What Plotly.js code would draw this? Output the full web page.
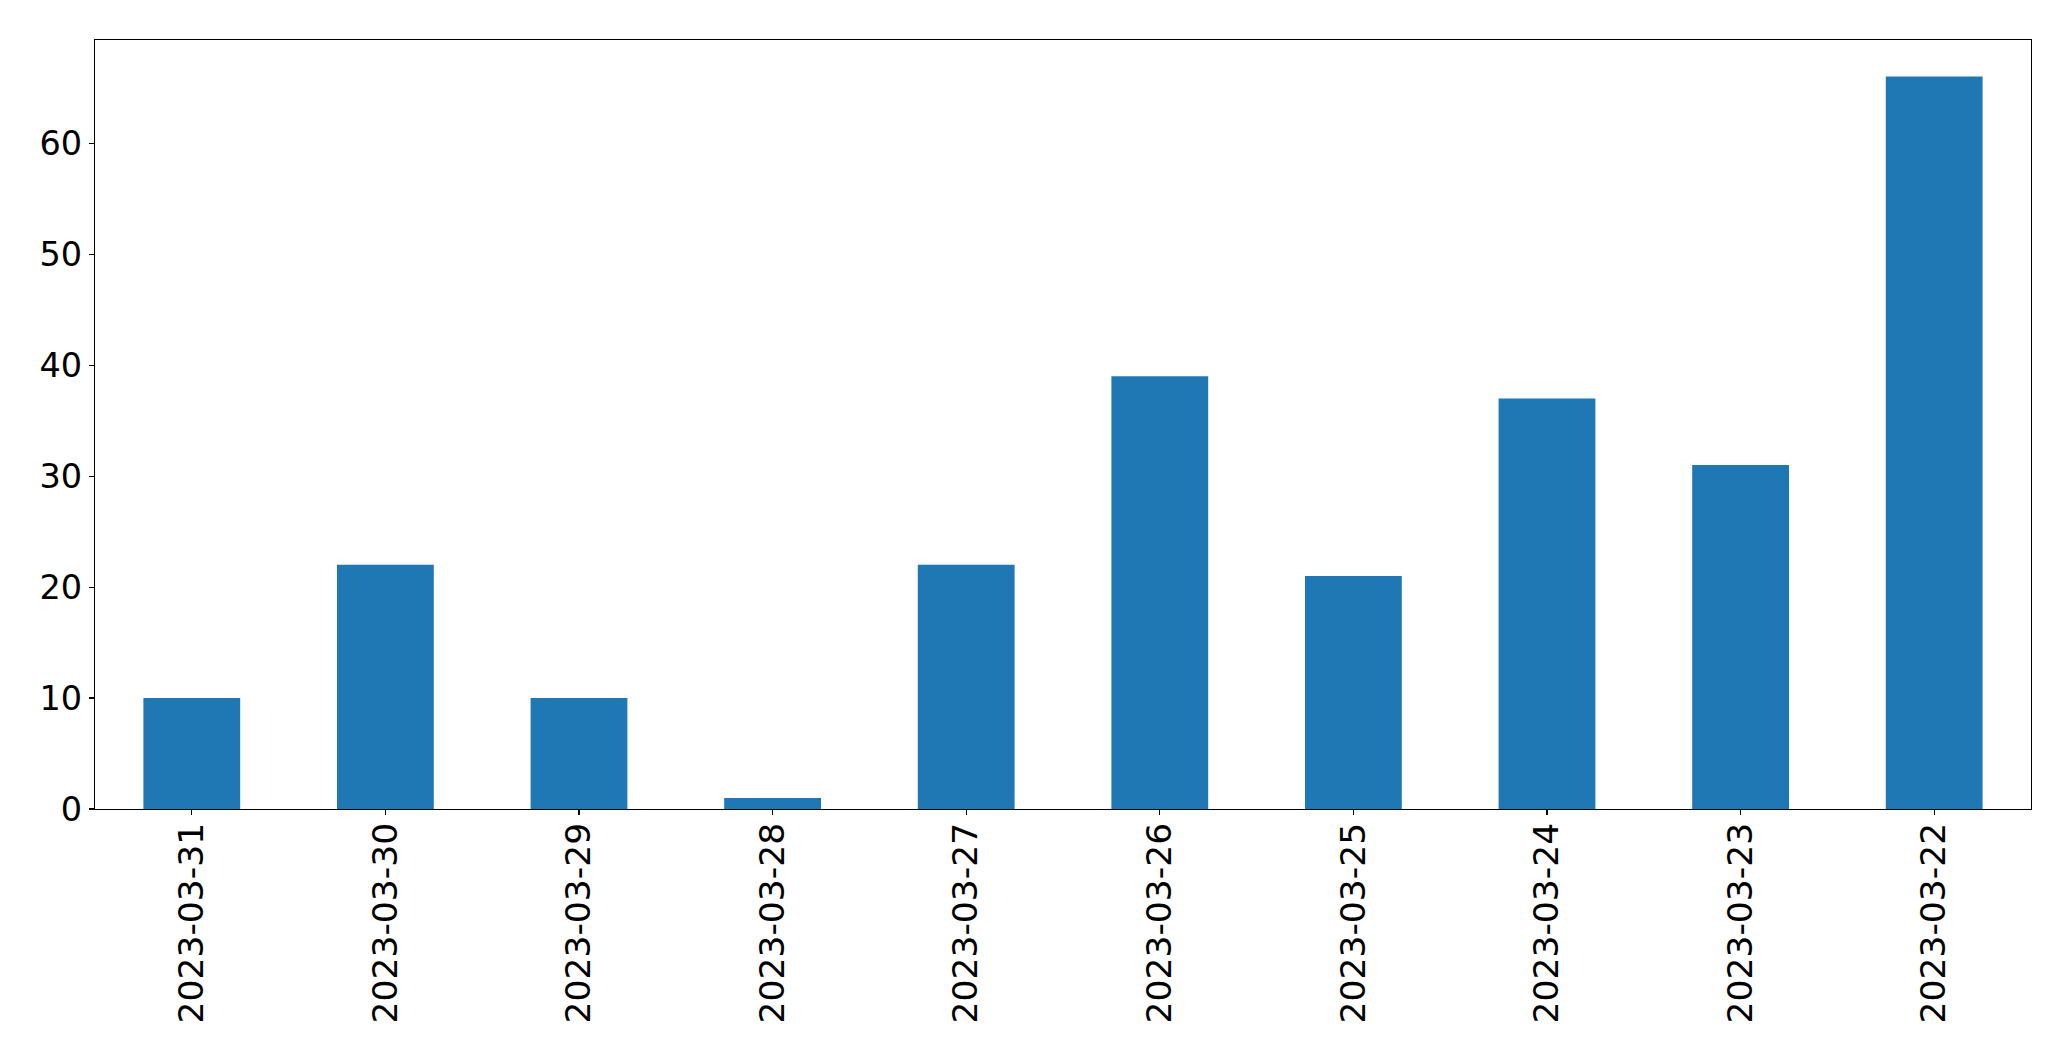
<!DOCTYPE html>
<html>
<head>
<meta charset="utf-8">
<script src="https://cdn.plot.ly/plotly-3.0.1.min.js"></script>
<style>html,body{margin:0;padding:0;background:#fff;}#chart{width:2071px;height:1061px;}</style>
</head>
<body>
<div id="chart"></div>
<script>
const dates = ["2023-03-31","2023-03-30","2023-03-29","2023-03-28","2023-03-27","2023-03-26","2023-03-25","2023-03-24","2023-03-23","2023-03-22"];
const counts = [10, 22, 10, 1, 22, 39, 21, 37, 31, 66];
const yTicks = [0, 10, 20, 30, 40, 50, 60];

const trace = {
  type: 'bar',
  x: dates,
  y: counts,
  width: 0.5,
  marker: {color: '#1f77b4', line: {width: 0}},
  hoverinfo: 'x+y'
};
const yfont = {family: 'DejaVu Sans', size: 33.5, color: '#000'};
const xfont = {family: 'DejaVu Sans', size: 34.5, color: '#000'};
const layout = {
  width: 2071, height: 1061,
  margin: {l: 95, r: 40, t: 40, b: 252, pad: 0},
  paper_bgcolor: '#fff', plot_bgcolor: '#fff',
  showlegend: false,
  font: yfont,
  xaxis: {
    type: 'category',
    range: [-0.5, 9.5],
    tickangle: -90,
    ticks: 'outside', ticklen: 5, tickwidth: 1.1, tickcolor: '#000',
    showline: true, linecolor: '#000', linewidth: 1.1, mirror: true,
    showgrid: false, zeroline: false,
    tickfont: xfont,
    ticklabelstandoff: -6
  },
  yaxis: {
    range: [0, 69.3],
    tickvals: yTicks,
    ticktext: yTicks.map(String),
    ticks: 'outside', ticklen: 5, tickwidth: 1.1, tickcolor: '#000',
    showline: true, linecolor: '#000', linewidth: 1.1, mirror: true,
    showgrid: false, zeroline: false,
    tickfont: yfont
  }
};
Plotly.newPlot('chart', [trace], layout, {displayModeBar: false, staticPlot: true});
</script>
</body>
</html>
